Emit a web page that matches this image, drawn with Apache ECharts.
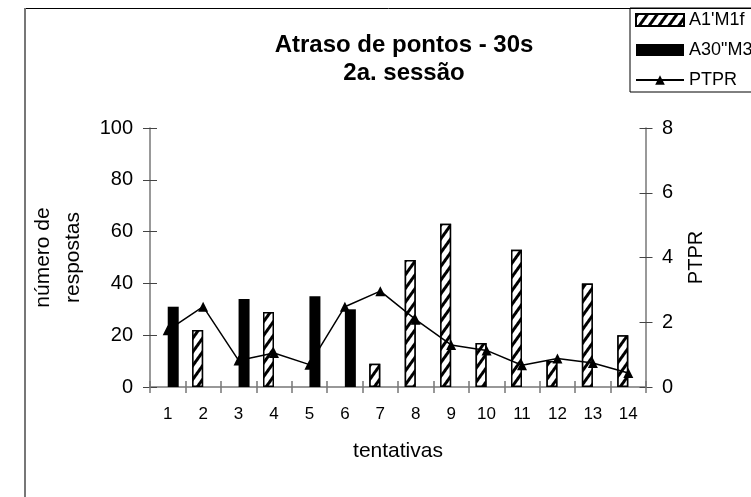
<!DOCTYPE html>
<html>
<head>
<meta charset="utf-8">
<script src="https://cdn.jsdelivr.net/npm/echarts@6/dist/echarts.min.js"></script>
<style>
html,body{margin:0;padding:0;background:#fff;}
#chart{width:751px;height:497px;}
</style>
</head>
<body>
<div id="chart"></div>
<script>
const categories = ['1','2','3','4','5','6','7','8','9','10','11','12','13','14'];
const seriesNames = ["A1'M1f", 'A30"M30"', 'PTPR'];
const hatchedValues = [null, 22, null, 29, null, null, 9, 49, 63, 17, 53, 10, 40, 20];
const blackValues = [31, null, 34, null, 35, 30, null, null, null, null, null, null, null, null];
const ptprValues = [1.75, 2.48, 0.82, 1.05, 0.69, 2.48, 2.96, 2.08, 1.3, 1.13, 0.67, 0.88, 0.74, 0.43];
const leftTicks = {min: 0, max: 100, interval: 20};
const rightTicks = {min: 0, max: 8, interval: 2};

const FONT = '"Liberation Sans", Arial, sans-serif';
const axisGray = '#777';

const chart = echarts.init(document.getElementById('chart'), null, {renderer: 'canvas'});

function yAx(pos, ticks, extra) {
  return Object.assign({
    type: 'value',
    position: pos,
    min: ticks.min, max: ticks.max, interval: ticks.interval,
    splitLine: {show: false},
    axisLine: {show: true, lineStyle: {color: axisGray, width: 1.5}},
    axisTick: {show: true, inside: false, length: 7, lineStyle: {color: '#444', width: 1}},
    axisLabel: {show: true, color: '#000', fontFamily: FONT, fontSize: 20, margin: 17}
  }, extra || {});
}

const option = {
  animation: false,
  backgroundColor: '#fff',
  title: {
    text: 'Atraso de pontos - 30s\n2a. sessão',
    left: 399, top: 26, textAlign: 'center',
    textStyle: {fontFamily: FONT, fontSize: 24, fontWeight: 'bold', color: '#000', lineHeight: 28}
  },
  legend: {
    left: 630, top: 8,
    orient: 'vertical',
    padding: [3, 40, 3, 5],
    itemGap: 12,
    itemWidth: 48, itemHeight: 12,
    borderColor: '#000', borderWidth: 1,
    textStyle: {fontFamily: FONT, fontSize: 18, color: '#000'},
    data: [
      {name: seriesNames[0], icon: 'rect'},
      {name: seriesNames[1], icon: 'rect'},
      {name: seriesNames[2]}
    ]
  },
  graphic: [
    {type: 'line', shape: {x1: 25, y1: 8.5, x2: 760, y2: 8.5}, style: {stroke: '#000', lineWidth: 1}, z: 100},
    {type: 'line', shape: {x1: 25, y1: 8, x2: 25, y2: 500}, style: {stroke: '#777', lineWidth: 2}, z: 100}
  ],
  grid: {left: 150, right: 105, top: 128, bottom: 110, containLabel: false},
  xAxis: [
    {
      type: 'category', data: categories, position: 'bottom',
      boundaryGap: true,
      name: 'tentativas', nameLocation: 'middle', nameGap: 54,
      nameTextStyle: {fontFamily: FONT, fontSize: 21, color: '#000'},
      axisLine: {show: true, lineStyle: {color: axisGray, width: 1.5}},
      axisTick: {show: true, alignWithLabel: false, inside: false, length: 6, lineStyle: {color: axisGray, width: 1.5}},
      axisLabel: {color: '#000', fontFamily: FONT, fontSize: 17, margin: 19, interval: 0},
      splitLine: {show: false}
    },
    {
      type: 'category', data: categories, position: 'bottom',
      boundaryGap: true,
      axisLine: {show: false},
      axisTick: {show: true, alignWithLabel: false, inside: true, length: 6, lineStyle: {color: axisGray, width: 1.5}},
      axisLabel: {show: false},
      splitLine: {show: false}
    }
  ],
  yAxis: [
    yAx('left', leftTicks, {
      name: 'número de\nrespostas', nameLocation: 'middle', nameGap: 62,
      nameTextStyle: {fontFamily: FONT, fontSize: 21, color: '#000', lineHeight: 30}
    }),
    yAx('right', rightTicks, {
      name: 'PTPR', nameLocation: 'middle', nameGap: 40,
      nameTextStyle: {fontFamily: FONT, fontSize: 20, color: '#000'},
      axisLabel: {show: true, color: '#000', fontFamily: FONT, fontSize: 20, margin: 16},
      axisTick: {show: true, inside: false, length: 6.5, lineStyle: {color: '#444', width: 1}}
    }),
    yAx('left', leftTicks, {
      axisLine: {show: false}, axisLabel: {show: false},
      axisTick: {show: true, inside: true, length: 7, lineStyle: {color: '#444', width: 1}}
    }),
    yAx('right', rightTicks, {
      axisLine: {show: false}, axisLabel: {show: false},
      axisTick: {show: true, inside: true, length: 6.5, lineStyle: {color: '#444', width: 1}}
    })
  ],
  series: [
    {
      name: seriesNames[0], type: 'bar', xAxisIndex: 0, yAxisIndex: 0,
      data: hatchedValues, barWidth: 11, barGap: '0%',
      itemStyle: {
        color: '#fff', borderColor: '#000', borderWidth: 1.5,
        decal: {symbol: 'rect', symbolSize: 1, dashArrayX: [1, 0], dashArrayY: [2.5, 4.5], rotation: -0.95, color: '#000', backgroundColor: '#fff'}
      },
      z: 2
    },
    {
      name: seriesNames[1], type: 'bar', xAxisIndex: 0, yAxisIndex: 0,
      data: blackValues, barWidth: 11, barGap: '0%',
      itemStyle: {color: '#000'},
      z: 2
    },
    {
      name: seriesNames[2], type: 'line', xAxisIndex: 0, yAxisIndex: 1,
      data: ptprValues,
      symbol: 'triangle', symbolSize: 10,
      lineStyle: {color: '#000', width: 1.5},
      itemStyle: {color: '#000'},
      z: 5
    }
  ]
};
chart.setOption(option);
</script>
</body>
</html>
